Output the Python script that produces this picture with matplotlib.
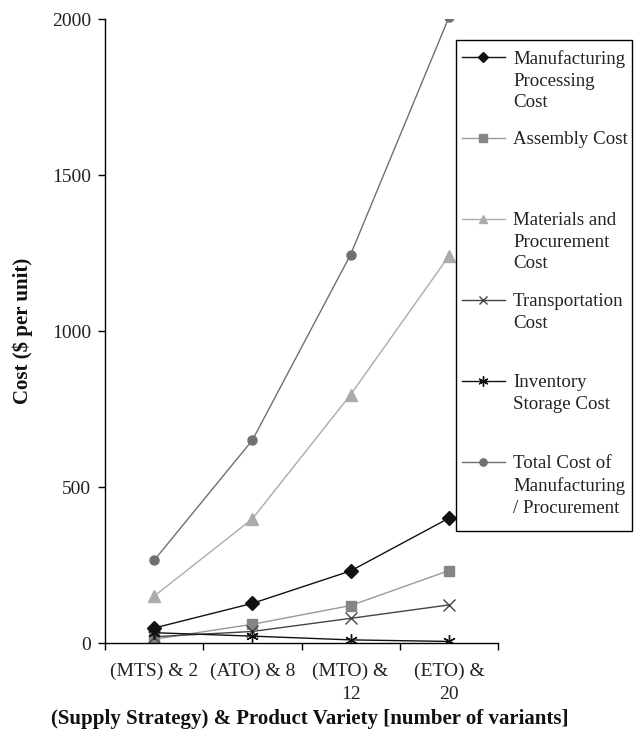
import numpy as np
import matplotlib
matplotlib.use('Agg')
import matplotlib.pyplot as plt
from matplotlib.patches import Rectangle

plt.rcParams['font.family'] = ['Liberation Serif', 'DejaVu Serif']

# ---- data : cost per unit by supply strategy & number of variants ----
strategies = ['(MTS) & 2', '(ATO) & 8', '(MTO) &\n12', '(ETO) &\n20']

manufacturing = [48, 127, 231, 400]
assembly = [12, 60, 120, 232]
materials = [150, 398, 796, 1240]
transportation = [20, 37, 79, 122]
inventory = [33, 22, 10, 5]
total = [265, 650, 1245, 2005]

labels = ['Manufacturing\nProcessing\nCost',
          'Assembly Cost',
          'Materials and\nProcurement\nCost',
          'Transportation\nCost',
          'Inventory\nStorage Cost',
          'Total Cost of\nManufacturing\n/ Procurement']

# (values, line colour, marker, marker colour, marker size)
series = [
    (manufacturing, '#111111', 'D', '#111111', 7),
    (assembly, '#999999', 's', '#858585', 6.5),
    (materials, '#ababab', '^', '#ababab', 8),
    (transportation, '#444444', 'x', '#444444', 8),
    (inventory, '#111111', (6, 2, 0), '#111111', 9),
    (total, '#707070', 'o', '#707070', 6.5),
]

W, H = 644, 731
fig = plt.figure(figsize=(W / 100, H / 100), dpi=100)
ax = fig.add_axes([105 / W, 88 / H, 393 / W, 624 / H])

x = np.arange(len(strategies))
for vals, lc, mk, mc, ms in series:
    ax.plot(x, vals, color=lc, lw=1.0, marker=mk, markersize=ms,
            markerfacecolor=mc, markeredgecolor=mc, markeredgewidth=1.0)

ax.set_xlim(-0.5, len(strategies) - 0.5)
ax.set_ylim(0, 2000)
ax.set_yticks([0, 500, 1000, 1500, 2000])

# ticks between categories, labels under the categories
ax.set_xticks(np.arange(len(strategies) + 1) - 0.5)
ax.set_xticklabels([])
ax.set_xticks(x, minor=True)
ax.set_xticklabels(strategies, minor=True, linespacing=1.45)
ax.tick_params(axis='x', which='major', direction='out', length=5, width=1)
ax.tick_params(axis='x', which='minor', length=0, pad=14, labelsize=14,
               labelcolor='#222222')
ax.tick_params(axis='y', direction='out', length=5, width=1, pad=5,
               labelsize=14, labelcolor='#222222')

for s in ['top', 'right']:
    ax.spines[s].set_visible(False)
for s in ['left', 'bottom']:
    ax.spines[s].set_linewidth(1.0)

ax.set_xlabel('(Supply Strategy) & Product Variety [number of variants]',
              fontsize=15, fontweight='bold', color='#111111')
ax.set_ylabel('Cost ($ per unit)', fontsize=15, fontweight='bold',
              color='#111111')
ax.xaxis.set_label_coords(0.52, -0.106)
ax.yaxis.set_label_coords(-0.183, 0.5)

# ---- legend box (entries in equal slots, marker on first text line) ----
lax = fig.add_axes([0, 0, 1, 1])
lax.set_xlim(0, W)
lax.set_ylim(H, 0)
lax.axis('off')
lax.add_patch(Rectangle((456, 40), 176, 491, facecolor='white',
                        edgecolor='black', lw=1.0))
for i, (lab, (vals, lc, mk, mc, ms)) in enumerate(zip(labels, series)):
    yy = 57 + 81 * i
    lax.plot([462, 505], [yy, yy], color=lc, lw=1.0)
    lax.plot([483.5], [yy], marker=mk, markersize=ms * 0.8,
             markerfacecolor=mc, markeredgecolor=mc, markeredgewidth=1.0)
    lax.text(513, yy - 7, lab, fontsize=13.6, va='top', ha='left',
             linespacing=1.36, color='#222222')

fig.savefig('out.png', dpi=100)
